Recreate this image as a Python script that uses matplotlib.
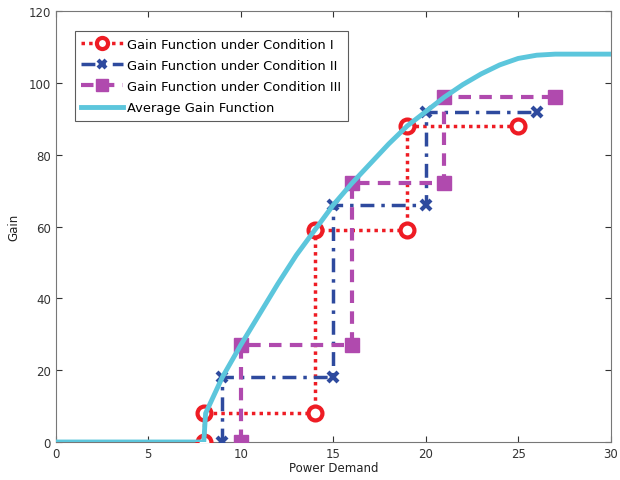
import matplotlib
matplotlib.use("Agg")
import matplotlib.pyplot as plt

# Staircase gain functions (corner points)
x_c1 = [8, 8, 14, 14, 19, 19, 25]
y_c1 = [0, 8, 8, 59, 59, 88, 88]
x_c2 = [9, 9, 15, 15, 20, 20, 26]
y_c2 = [0, 18, 18, 66, 66, 92, 92]
x_c3 = [10, 10, 16, 16, 21, 21, 27]
y_c3 = [0, 27, 27, 72, 72, 96, 96]

# Average gain function
x_avg = [0, 8, 8.1, 9, 10, 11, 12, 13, 14, 15, 16, 17, 18, 19, 20, 21, 22, 23, 24, 25, 26, 27, 30]
y_avg = [0, 0, 8, 18, 27, 35.5, 44, 52, 59, 66, 72, 77.5, 83, 88, 92, 96, 99.5, 102.5, 105, 106.8, 107.7, 108, 108]

labels = ["Gain Function under Condition I",
          "Gain Function under Condition II",
          "Gain Function under Condition III",
          "Average Gain Function"]

fig = plt.figure(figsize=(6.2, 4.81), dpi=100)
ax = fig.add_axes([0.090, 0.079, 0.895, 0.896])

red = "#ee1c24"
blue = "#2e4a9e"
mag = "#b04aae"
cyan = "#5cc6dc"

ax.plot(x_c1, y_c1, linestyle=(0, (1, 1.2)), color=red, lw=2.5, marker="o", ms=10,
        mfc="white", mec=red, mew=3, label=labels[0], zorder=3)
ax.plot(x_c2, y_c2, linestyle=(0, (4, 2, 1, 2)), color=blue, lw=2.5, marker="x", ms=7,
        mec=blue, mew=3, label=labels[1], zorder=3)
ax.plot(x_c3, y_c3, linestyle=(0, (3, 2)), color=mag, lw=3, marker="s", ms=10,
        mfc=mag, mec=mag, label=labels[2], zorder=3)
ax.plot(x_avg, y_avg, linestyle="-", color=cyan, lw=3.5, label=labels[3], zorder=4)

ax.set_xlim(0, 30)
ax.set_ylim(0, 120)
ax.set_xticks(range(0, 31, 5))
ax.set_yticks(range(0, 121, 20))
ax.tick_params(direction="in", top=True, right=True, labelsize=8.5,
               colors="#333333", length=4)
for s in ax.spines.values():
    s.set_color("#777777")
ax.set_xlabel("Power Demand", fontsize=8.5, labelpad=1, color="#222222")
ax.set_ylabel("Gain", fontsize=8.5, labelpad=6, color="#222222")

leg = ax.legend(loc="upper left", bbox_to_anchor=(0.027, 0.962), fontsize=9.4,
                frameon=True, fancybox=False, edgecolor="#333333",
                handlelength=3.2, handletextpad=0.3, borderpad=0.5,
                labelspacing=0.62, markerscale=0.8, borderaxespad=0.3)
leg.get_frame().set_linewidth(0.8)

fig.savefig("out.png", dpi=100)
